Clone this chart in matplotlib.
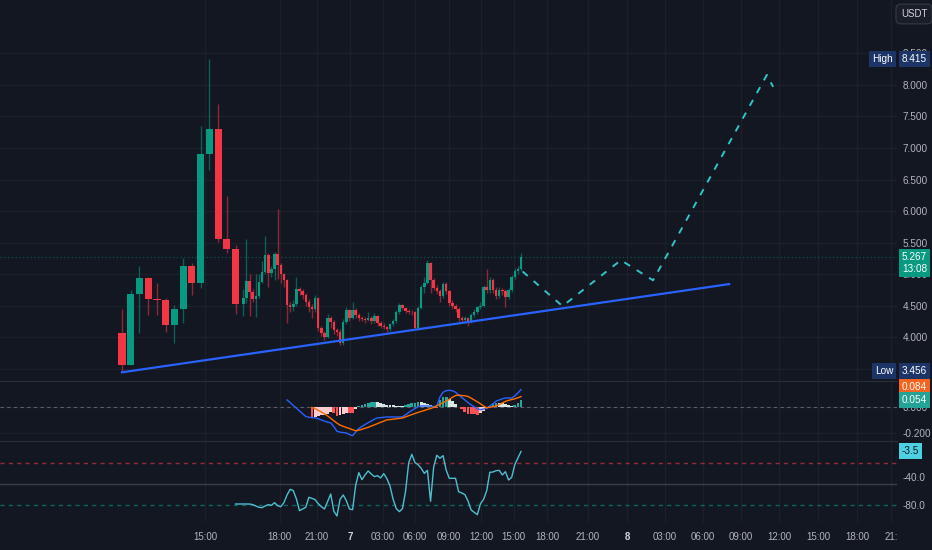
import matplotlib.pyplot as plt
import numpy as np

plt.rcParams['font.family'] = ['Liberation Sans Narrow', 'Liberation Sans', 'DejaVu Sans']

# candles (first 14 are the wide early bars)
opens = [4.06, 3.56, 4.68, 4.94, 4.60, 4.59, 4.19, 4.44, 5.13, 4.86,
         6.90, 7.30, 5.56, 5.40, 4.52, 4.62, 4.89, 4.71, 4.60, 4.65,
         4.87, 5.03, 5.30, 5.01, 5.08, 5.31, 5.14, 5.00, 4.90, 4.51,
         4.48, 4.52, 4.76, 4.73, 4.67, 4.56, 4.48, 4.44, 4.62, 4.14,
         4.06, 4.00, 4.30, 4.24, 4.11, 4.08, 3.90, 4.24, 4.43, 4.30,
         4.43, 4.35, 4.30, 4.29, 4.27, 4.30, 4.25, 4.33, 4.22, 4.18,
         4.16, 4.13, 4.20, 4.25, 4.40, 4.51, 4.46, 4.42, 4.40, 4.39,
         4.14, 4.46, 4.79, 4.86, 5.17, 4.90, 4.78, 4.73, 4.65, 4.84,
         4.73, 4.54, 4.49, 4.44, 4.30, 4.27, 4.30, 4.25, 4.35, 4.40,
         4.48, 4.50, 4.79, 4.75, 4.90, 4.75, 4.65, 4.75, 4.73, 4.63,
         4.75, 4.95, 5.05, 5.08]
closes = [3.56, 4.68, 4.94, 4.60, 4.59, 4.19, 4.44, 5.13, 4.86, 6.90,
          7.30, 5.56, 5.40, 4.52, 4.62, 4.89, 4.71, 4.60, 4.65, 4.87,
          5.03, 5.30, 5.01, 5.08, 5.31, 5.14, 5.00, 4.90, 4.51, 4.48,
          4.52, 4.76, 4.73, 4.67, 4.56, 4.48, 4.44, 4.62, 4.14, 4.06,
          4.00, 4.30, 4.24, 4.11, 4.08, 3.90, 4.24, 4.43, 4.30, 4.43,
          4.35, 4.30, 4.29, 4.27, 4.30, 4.25, 4.33, 4.22, 4.18, 4.16,
          4.13, 4.20, 4.25, 4.40, 4.51, 4.46, 4.42, 4.40, 4.39, 4.14,
          4.46, 4.79, 4.86, 5.17, 4.90, 4.78, 4.73, 4.65, 4.84, 4.73,
          4.54, 4.49, 4.44, 4.30, 4.27, 4.30, 4.25, 4.35, 4.40, 4.48,
          4.50, 4.79, 4.75, 4.90, 4.75, 4.65, 4.75, 4.73, 4.63, 4.75,
          4.95, 5.05, 5.08, 5.267]
highs = [4.44, 4.75, 5.13, 4.95, 4.86, 4.62, 4.51, 5.25, 5.17, 7.35,
         8.415, 7.70, 6.24, 5.46, 4.76, 5.56, 5.00, 4.76, 5.00, 5.00,
         5.20, 5.60, 5.33, 5.12, 5.35, 6.03, 5.18, 5.02, 4.92, 4.55,
         4.58, 4.95, 4.80, 4.76, 4.70, 4.60, 4.52, 4.66, 4.64, 4.18,
         4.10, 4.36, 4.34, 4.27, 4.14, 4.12, 4.28, 4.48, 4.45, 4.55,
         4.46, 4.38, 4.33, 4.31, 4.40, 4.33, 4.38, 4.35, 4.25, 4.22,
         4.18, 4.23, 4.28, 4.43, 4.54, 4.53, 4.48, 4.45, 4.43, 4.41,
         4.50, 4.82, 4.95, 5.22, 5.19, 4.93, 4.82, 4.76, 4.88, 4.87,
         4.75, 4.58, 4.52, 4.47, 4.33, 4.33, 4.32, 4.38, 4.44, 4.50,
         4.55, 4.83, 5.08, 4.96, 4.93, 4.80, 4.80, 4.78, 4.76, 4.78,
         4.98, 5.10, 5.12, 5.33]
lows = [3.456, 3.56, 4.06, 4.35, 4.35, 4.08, 3.90, 4.22, 4.67, 4.78,
        6.65, 5.51, 5.33, 4.37, 4.33, 4.54, 4.33, 4.55, 4.32, 4.62,
        4.85, 5.00, 4.79, 4.95, 4.90, 4.92, 4.85, 4.80, 4.22, 4.40,
        4.42, 4.50, 4.66, 4.60, 4.50, 4.40, 4.30, 4.40, 4.10, 4.02,
        3.95, 3.98, 4.15, 4.05, 4.02, 3.87, 3.87, 4.20, 4.25, 4.28,
        4.30, 4.26, 4.25, 4.22, 4.25, 4.20, 4.22, 4.18, 4.14, 4.12,
        4.08, 4.10, 4.17, 4.22, 4.37, 4.43, 4.38, 4.36, 4.35, 4.12,
        4.12, 4.44, 4.70, 4.84, 4.70, 4.74, 4.68, 4.55, 4.62, 4.68,
        4.50, 4.45, 4.40, 4.26, 4.22, 4.23, 4.18, 4.22, 4.32, 4.36,
        4.45, 4.48, 4.70, 4.70, 4.70, 4.60, 4.62, 4.66, 4.48, 4.60,
        4.72, 4.92, 5.00, 5.05]

# MACD line (last 76 bars) and signal (last 68 bars)
macd = [0.058, 0.038, 0.016, -0.005, -0.027, -0.048, -0.069, -0.075, -0.078, -0.080,
        -0.087, -0.096, -0.105, -0.113, -0.118, -0.148, -0.183, -0.190, -0.193, -0.196,
        -0.208, -0.217, -0.189, -0.162, -0.146, -0.131, -0.117, -0.104, -0.090, -0.080,
        -0.078, -0.075, -0.073, -0.073, -0.073, -0.073, -0.073, -0.072, -0.056, -0.038,
        -0.022, -0.008, 0.006, 0.012, 0.012, 0.012, 0.010, 0.007, 0.012, 0.081,
        0.117, 0.130, 0.132, 0.129, 0.118, 0.097, 0.077, 0.058, 0.038, 0.020,
        0.005, -0.010, -0.017, -0.012, -0.005, 0.011, 0.030, 0.048, 0.058, 0.067,
        0.073, 0.073, 0.073, 0.089, 0.112, 0.138]
signal = [0.000, -0.008, -0.022, -0.035, -0.048, -0.065, -0.083, -0.102, -0.120, -0.136,
          -0.145, -0.154, -0.162, -0.171, -0.179, -0.175, -0.168, -0.160, -0.153, -0.143,
          -0.134, -0.124, -0.114, -0.105, -0.095, -0.093, -0.090, -0.087, -0.084, -0.081,
          -0.072, -0.063, -0.055, -0.046, -0.038, -0.030, -0.023, -0.015, -0.008, 0.001,
          0.013, 0.025, 0.037, 0.049, 0.063, 0.078, 0.092, 0.095, 0.092, 0.090,
          0.085, 0.072, 0.058, 0.044, 0.028, 0.012, -0.003, 0.002, 0.006, 0.011,
          0.022, 0.035, 0.047, 0.055, 0.061, 0.067, 0.075, 0.084]

# Williams %R (last 91 bars)
wr = [-78.6, -78.6, -78.6, -78.6, -79.5, -81.4, -83.3, -83.8, -81.4, -79.5,
      -80.5, -76.7, -81.0, -82.4, -76.7, -65.7, -57.6, -59.5, -71.4, -88.1,
      -85.7, -83.3, -69.0, -70.5, -72.4, -78.1, -82.4, -85.7, -75.2, -64.3,
      -89.0, -95.7, -71.9, -65.7, -73.8, -85.7, -86.7, -51.9, -33.8, -43.8,
      -37.1, -31.4, -35.7, -39.5, -38.1, -41.4, -35.2, -42.4, -52.9, -71.9,
      -85.2, -89.5, -85.2, -60.0, -19.5, -7.6, -19.5, -22.4, -27.6, -34.8,
      -30.5, -74.8, -25.7, -9.0, -13.3, -9.5, -30.0, -41.9, -41.9, -41.9,
      -61.0, -62.9, -65.2, -74.3, -87.1, -90.5, -93.8, -78.1, -71.9, -59.5,
      -33.3, -32.9, -31.0, -30.5, -37.1, -32.4, -44.3, -40.5, -22.4, -12.9,
      -3.5]

# drawings: trend line and projected path (bar slots / price)
trend_slots = [0, 194.6]
trend_prices = [3.44, 4.84]
path_slots = [128.4, 141.2, 159.9, 170.2, 206.7, 208.7]
path_prices = [5.04, 4.49, 5.22, 4.90, 8.16, 7.97]

time_labels = ['15:00', '18:00', '21:00', '7', '03:00', '06:00', '09:00', '12:00', '15:00',
               '18:00', '21:00', '8', '03:00', '06:00', '09:00', '12:00', '15:00', '18:00', '21:']
time_slots = [26.6, 50.6, 62.5, 73.1, 83.7, 93.9, 104.8, 115.1, 125.6,
              136.2, 149.4, 161.9, 174.0, 186.2, 198.4, 210.6, 223.1, 235.6, 246.5]

bg = '#131722'
up, down = '#089981', '#f23645'
txt = '#b2b5be'
grid_c = '#1c202b'

n = len(closes)
idx = np.arange(n)
n_big = 14
bar_x = np.where(idx < n_big, idx * 2.8, (n_big - 1) * 2.8 + 2.5 + (idx - n_big))
body_w = np.where(idx < n_big, 2.3, 0.8)

W, H = 932, 550
fig = plt.figure(figsize=(W / 100, H / 100), dpi=100, facecolor=bg)


def panel(top, bottom):
    a = fig.add_axes([0, 1 - bottom / H, 897 / W, (bottom - top) / H])
    a.set_facecolor(bg)
    for s in a.spines.values():
        s.set_visible(False)
    a.set_xlim(-39.1, 248.4)
    a.set_xticks(time_slots)
    a.grid(True, axis='x', color=grid_c, lw=1)
    a.yaxis.tick_right()
    a.tick_params(length=0, labelsize=7.2, labelcolor=txt, pad=4)
    a.tick_params(axis='x', labelbottom=False)
    a.set_axisbelow(True)
    return a


ax = panel(0, 381)
ax_m = panel(381, 441)
ax_w = panel(441, 522)
for a in (ax_m, ax_w):
    a.spines['top'].set_visible(True)
    a.spines['top'].set_color('#2a2e39')

# price panel
o, c, h, l = map(np.array, (opens, closes, highs, lows))
col = np.where(c >= o, up, down)
ax.vlines(bar_x, l, h, colors=col, lw=1, alpha=0.55, zorder=2)
ax.bar(bar_x, np.maximum(np.abs(c - o), 0.012), bottom=np.minimum(o, c),
       width=body_w, color=col, lw=0, zorder=3)
ax.set_ylim(3.302, 9.349)
pticks = np.arange(3.5, 8.51, 0.5)
ax.set_yticks(pticks)
ax.set_yticklabels([f'{v:.3f}' for v in pticks])
ax.grid(True, axis='y', color=grid_c, lw=1)
ax.axhline(closes[-1], color=up, lw=0.9, ls=(0, (1, 2)), alpha=0.45, zorder=1)
ax.plot(trend_slots, trend_prices, color='#2962ff', lw=1.6, zorder=4)
ax.plot(path_slots, path_prices, color='#33c3c9', lw=1.4, ls=(0, (3.5, 4)), zorder=4)

# MACD panel
m_x = bar_x[n - len(macd):]
s_x = bar_x[n - len(signal):]
hist = np.array(macd[len(macd) - len(signal):]) - np.array(signal)
hcol = []
for i, v in enumerate(hist):
    prev = hist[i - 1] if i > 0 else v
    if v >= 0:
        hcol.append('#26a69a' if v > prev else '#d8e6e3')
    else:
        hcol.append('#ffcdd2' if v > prev else '#ff5252')
ax_m.bar(s_x, hist, width=0.9, color=hcol, lw=0, zorder=2)
ax_m.plot(m_x, macd, color='#2962ff', lw=1, zorder=3)
ax_m.plot(s_x, signal, color='#ff6d00', lw=1, zorder=3)
ax_m.axhline(0, color='#787b86', lw=0.8, ls=(0, (3, 3)), alpha=0.7, zorder=1)
ax_m.set_ylim(-0.258, 0.204)
ax_m.set_yticks([0, -0.2])
ax_m.set_yticklabels(['0.000', '-0.200'])
ax_m.grid(True, axis='y', color=grid_c, lw=1)

# Williams %R panel
w_x = bar_x[n - len(wr):]
ax_w.plot(w_x, wr, color='#4fbfcf', lw=1, zorder=3)
ax_w.axhline(-20, color=down, lw=1, ls=(0, (3, 3)), alpha=0.6)
ax_w.axhline(-50, color='#787b86', lw=1, alpha=0.4)
ax_w.axhline(-80, color=up, lw=1, ls=(0, (3, 3)), alpha=0.6)
ax_w.set_ylim(-104.3, 11.4)
ax_w.set_yticks([-40, -80])
ax_w.set_yticklabels(['-40.0', '-80.0'])
ax_w.tick_params(axis='x', labelbottom=True, pad=7, labelsize=7)
ax_w.set_xticklabels(time_labels)
for t in ax_w.get_xticklabels():
    if t.get_text() in ('7', '8'):
        t.set_color('#d1d4dc')
        t.set_fontweight('bold')


def tag(a, y, s, fc, tc='white', dx=5, dy=0, ha='left'):
    a.annotate(s, xy=(1, y), xycoords=('axes fraction', 'data'), xytext=(dx, dy),
               textcoords='offset pixels', ha=ha, va='center', fontsize=7.2, color=tc,
               bbox=dict(boxstyle='square,pad=0.3', fc=fc, ec='none'),
               annotation_clip=False, zorder=10)


tag(ax, max(highs), f'{max(highs):.3f}', '#1c3566')
tag(ax, max(highs), 'High', '#1c3566', dx=-4, ha='right')
tag(ax, min(lows), f'{min(lows):.3f}', '#1c3566')
tag(ax, min(lows), 'Low', '#1c3566', dx=-4, ha='right')
tag(ax, closes[-1], f'{closes[-1]:.3f}\n13:08', up, dy=-6)
tag(ax_m, signal[-1], f'{signal[-1]:.3f}', '#f5631e', dy=10)
tag(ax_m, hist[-1], f'{hist[-1]:.3f}', '#22a395')
tag(ax_w, wr[-1], f'{wr[-1]:.1f}', '#4dd0e1', tc='#131722')

fig.text(914 / W, 1 - 14 / H, 'USDT', ha='center', va='center', fontsize=7, color='#d1d4dc',
         bbox=dict(boxstyle='round,pad=0.5', fc='#1a1e29', ec='#363a45', lw=0.8))

fig.savefig('out.png', dpi=100, facecolor=bg)
